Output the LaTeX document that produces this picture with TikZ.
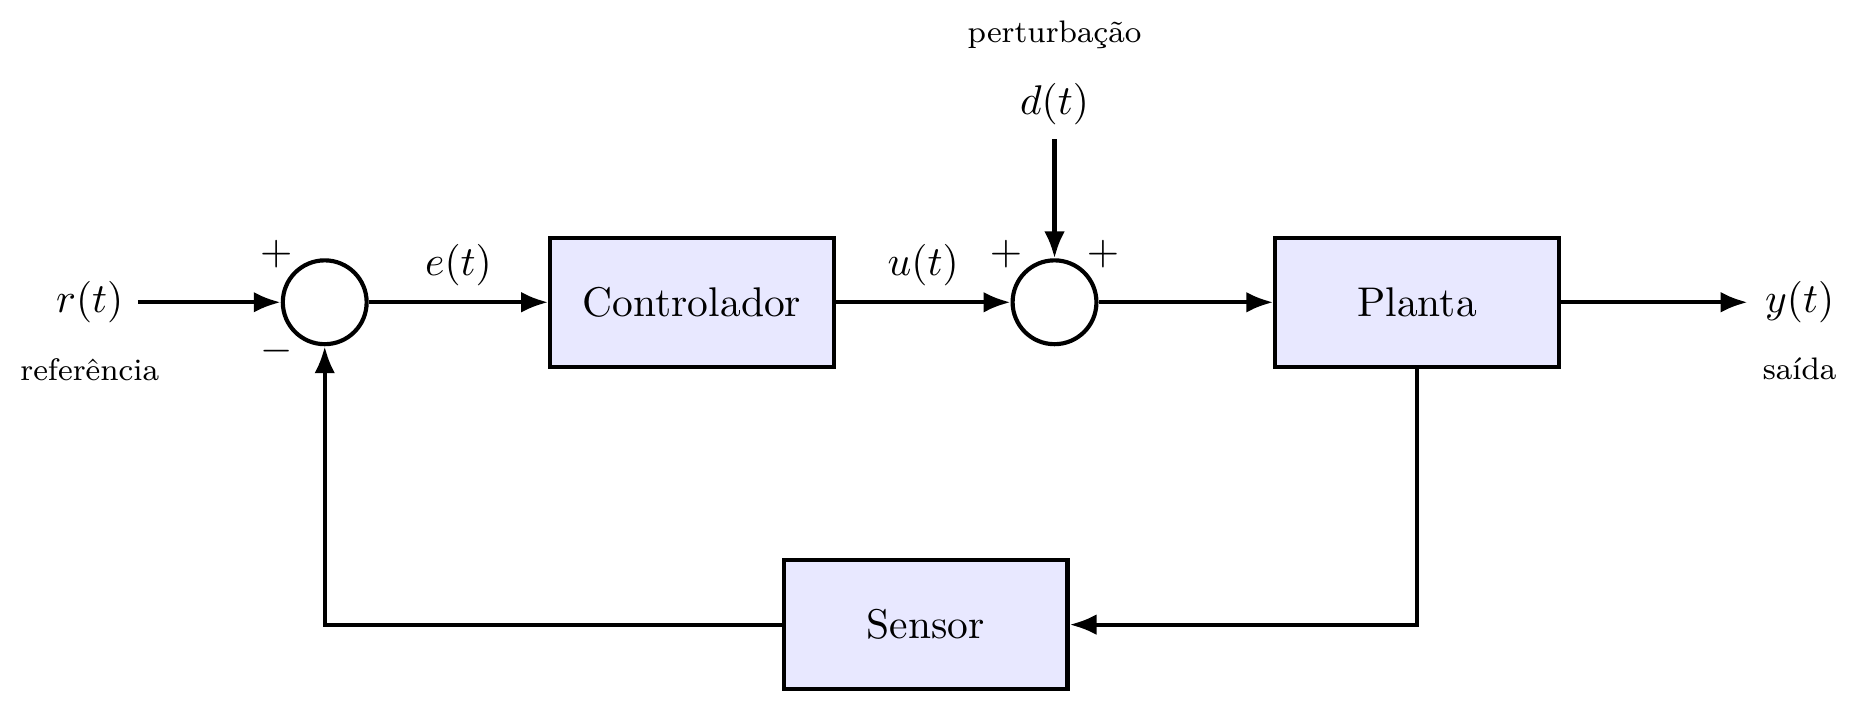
\documentclass[tikz,border=0pt]{standalone}
\usepackage{tikz}
\usetikzlibrary{arrows.meta,positioning}
\usepackage{amsmath}

\begin{document}
\begin{tikzpicture}[
    node distance=1.48cm,
    every node/.style={font=\normalsize},
    block/.style={draw, line width=1pt, fill=blue!9, minimum width=2.4cm, minimum height=1.09cm, align=center},
    sumnode/.style={draw, circle, line width=1pt, minimum size=0.71cm, inner sep=0pt},
    note/.style={font=\fontsize{7.5}{9}\selectfont},
    flow/.style={-{Latex[length=6.5pt, width=5pt]}, line width=1pt}
]
\useasboundingbox (0,0) rectangle (15.87,5.93);
\node[sumnode] (sum1) at (2.75,3.37) {};
\node[block, right=1.52cm of sum1] (ctrl) {Controlador};
\node[sumnode, right=of ctrl] (sum2) {};
\node[block, right=of sum2] (plant) {Planta};
\node[block] (sensor) at (7.84,0.64) {Sensor};
\node (rin) at (0.76,3.37) {$r(t)$};
\node[note, below=0.05cm of rin] (rlbl) {referência};
\coordinate (yend) at (14.80,3.37);
\node (yout) at (15.24,3.37) {$y(t)$};
\node[note, below=0.05cm of yout] (ylbl) {saída};
\node (din) at (sum2 |- 0,5.05) {$d(t)$};
\node[note, above=0.04cm of din] (dlbl) {perturbação};
% sinais
\node (p1) at ([shift={(-0.41,0.41)}]sum1.center) {$+$};
\node (m1) at ([shift={(-0.41,-0.41)}]sum1.center) {$-$};
\node (p2) at ([shift={(-0.41,0.41)}]sum2.center) {$+$};
\node (p3) at ([shift={(0.41,0.41)}]sum2.center) {$+$};
\draw[flow] (rin) -- (sum1);
\draw[flow] (sum1) -- node[above] (elbl) {$e(t)$} (ctrl);
\draw[flow] (ctrl) -- node[above] (ulbl) {$u(t)$} (sum2);
\draw[flow] (din) -- (sum2);
\draw[flow] (sum2) -- (plant);
\draw[flow] (plant) -- (yend);
\draw[flow] (plant.south) |- (sensor.east);
\draw[flow] (sensor.west) -| (sum1.south);
\end{tikzpicture}
\end{document}
